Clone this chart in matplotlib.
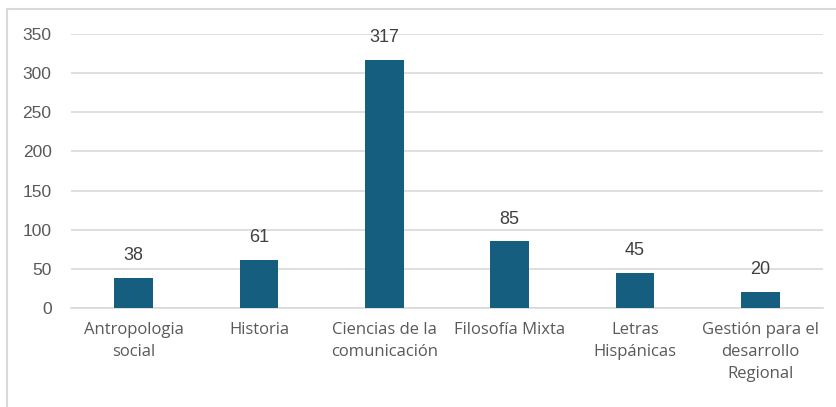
import matplotlib.pyplot as plt
import matplotlib.patches as mpatches
import numpy as np

plt.rcParams['font.family'] = ['Open Sans', 'DejaVu Sans']

categories = ['Antropologia\nsocial', 'Historia', 'Ciencias de la\ncomunicación',
              'Filosofía Mixta', 'Letras\nHispánicas', 'Gestión para el\ndesarrollo\nRegional']
values = [38, 61, 317, 85, 45, 20]
yticks = [0, 50, 100, 150, 200, 250, 300, 350]

bar_color = '#165E80'
text_color = '#595959'
grid_color = '#D9D9D9'

fig = plt.figure(figsize=(8.36, 4.07), dpi=100)
ax = fig.add_axes([0.0849, 0.2432, 0.8995, 0.6733])

x = np.arange(len(categories))
bars = ax.bar(x, values, width=0.31, color=bar_color, zorder=3)

for rect, v in zip(bars, values):
	ax.annotate(str(v), (rect.get_x() + rect.get_width() / 2, v), xytext=(0, 10),
	            textcoords='offset points', ha='center', va='bottom',
	            fontsize=13, color='#404040', family='Liberation Sans')

ax.set_xlim(-0.5, len(categories) - 0.5)
ax.set_ylim(0, 350)
ax.set_yticks(yticks)
ax.set_yticklabels([str(t) for t in yticks], family='Liberation Sans', fontsize=12.5)
ax.yaxis.grid(True, color=grid_color, linewidth=1.2, zorder=0)

ax.set_xticks(x)
ax.set_xticklabels(categories, linespacing=1.5, fontsize=12)

for s in ax.spines.values():
	s.set_visible(False)
ax.spines['bottom'].set_visible(True)
ax.spines['bottom'].set_color(grid_color)
ax.spines['bottom'].set_linewidth(1.2)

ax.tick_params(axis='both', length=0, colors=text_color)
ax.tick_params(axis='y', pad=14)
ax.tick_params(axis='x', pad=10)

# outer chart border (partially visible: top and left)
fig.add_artist(mpatches.Rectangle((7 / 836, -0.05), 1.0, (407 - 9) / 407 + 0.05,
                                  transform=fig.transFigure, fill=False,
                                  edgecolor=grid_color, linewidth=1.5))

fig.savefig('out.png', dpi=100)
